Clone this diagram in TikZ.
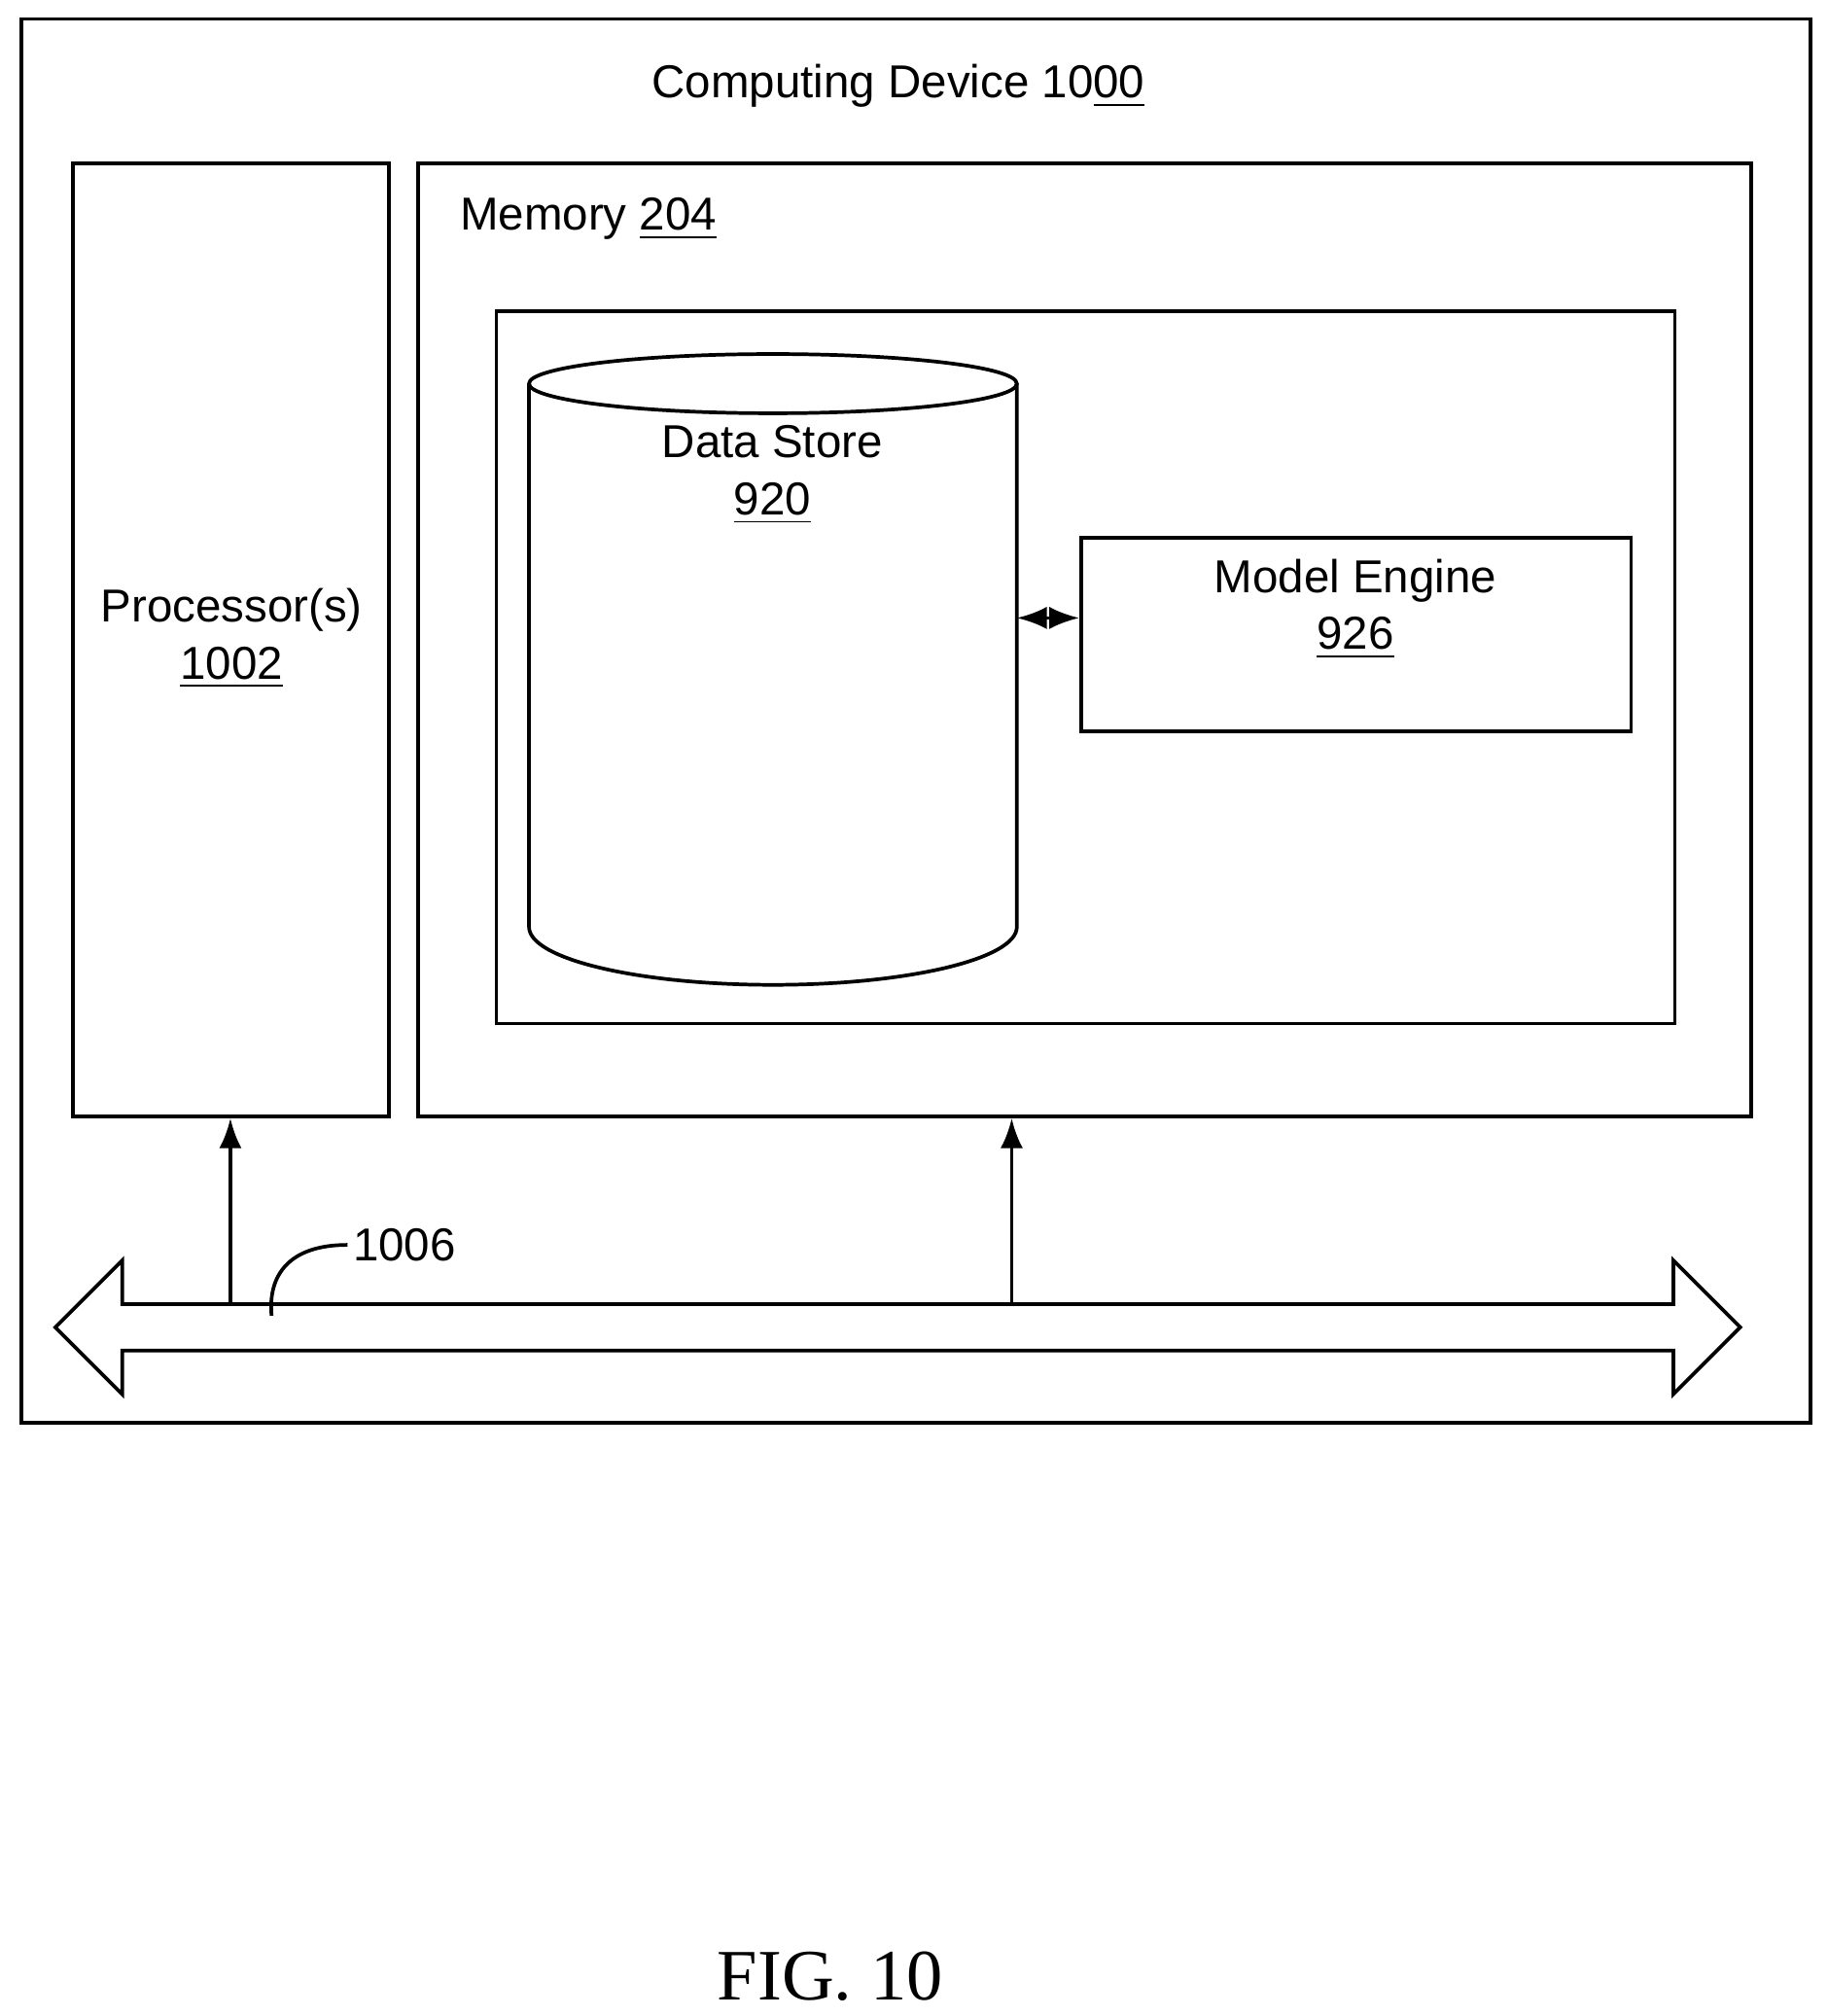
\documentclass[tikz,border=0pt]{standalone}
\usepackage{fontspec}
\setmainfont{Liberation Sans}
\newfontfamily\figfont{Liberation Serif}
\usetikzlibrary{positioning,arrows.meta}

\begin{document}
\begin{tikzpicture}
                    [x=0.01cm,y=-0.01cm,>=Latex,
                     box/.style={draw,thick,inner sep=0pt},
                     label/.style={align=center,font=\fontsize{10.2}{12.6}\selectfont}]

                        \useasboundingbox (0,0) rectangle (1420,1566);

                        % outer device
                        \node[box,minimum width=13.89cm,minimum height=10.9cm] (dev) at (711.5,560) {};
                        \node[label] (devlbl) at (698,67) {Computing Device 10\underline{00}};

                        % processor and memory
                        \node[box,minimum width=2.45cm,minimum height=7.4cm] (proc) at (179.5,497) {};
                        \node[label] (proclbl) at (180,496) {Processor(s)\\\underline{1002}};
                        \node[box,minimum width=10.35cm,minimum height=7.4cm] (mem) at (842.5,497) {};
                        \node[label,anchor=west] (memlbl) at (345,170) {Memory \underline{204}};
                        \node[box,minimum width=9.15cm,minimum height=5.53cm] (inner) at (843.5,518.5) {};

                        % data store cylinder
                        \draw[thick] (411,298) -- (411,720) arc[start angle=180,end angle=0,x radius=189.5,y radius=45]
                                     -- (790,298);
                        \draw[thick] (600.5,298) ellipse[x radius=189.5,y radius=23];
                        \coordinate (store) at (790,480);
                        \node[label] (storelbl) at (600,369) {Data Store\\\underline{920}};

                        \node[box,minimum width=4.27cm,minimum height=1.5cm] (engine) at (1053.5,493) {};
                        \node[label] (enginelbl) at (1053,473) {Model Engine\\\underline{926}};
                        \draw[thick,<->] (store) -- (store -| engine.west);

                        % bus
                        \draw[thick] (95,1013) -- (1300,1013) -- (1300,979) -- (1352,1031) -- (1300,1083)
                                     -- (1300,1049) -- (95,1049) -- (95,1083) -- (43,1031) -- (95,979) -- cycle;
                        \coordinate (bus1) at (179,1013);
                        \coordinate (bus2) at (786,1013);
                        \draw[thick,->] (bus1) -- (proc.south -| bus1);
                        \draw[thick,->] (bus2) -- (mem.south -| bus2);
                        \node[label,anchor=west,inner sep=1pt] (buslbl) at (270,967) {1006};
                        \draw[thick] (buslbl.west) .. controls (225,967) and (208,990) .. (211,1022);

                        \node[font=\figfont\fontsize{16}{19}\selectfont] (fig) at (645,1535) {FIG. 10};

                \end{tikzpicture}
\end{document}
